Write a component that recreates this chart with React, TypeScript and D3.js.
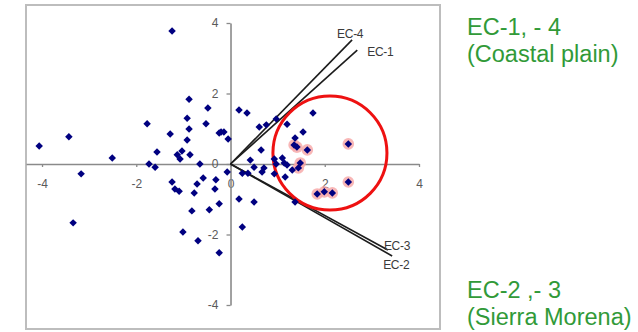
import React, { useEffect, useRef } from "react";
import * as d3 from "d3";

const X_TICKS = [-4, -2, 0, 2, 4];
const Y_TICKS = [-4, -2, 0, 2, 4];

// site scores on the first two axes
const SITE_X = [
  -1.24, -0.88, -0.48, -1.77, -0.92, -0.52, -0.88, -0.24, -1.28, -0.92,
  -3.43, -4.06, -1.56, -1.03, -1.13, -1.07, -0.86, -2.51, -1.73, -1.6,
  -0.65, -3.17, -0.58, -0.31, -0.07, -1.24, -0.71, -1.18, -1.09, -0.77,
  -0.33, -0.24, -0.82, -0.45, -3.34, -1.01, -0.69, -0.24, 0.18, 0.35,
  -0.2, -0.14, -0.05, 0.61, 0.76, 0.97, 0.65, 0.42, 1.1, 0.25,
  0.37, 0.5, 0.71, 0.93, 1.14, 1.2, 1.16, 0.18, 0.5, 1.37,
  0.25, 1.2, 1.54, 1.37, 1.75, 1.31, 0.93, 0.67, 0.97,
];
const SITE_Y = [
  3.77, 1.84, 1.59, 1.14, 1.3, 1.14, 0.99, 0.88, 0.85, 0.68,
  0.77, 0.51, 0.34, 0.37, 0.26, 0.14, 0.26, 0.17, 0.0, -0.09,
  0.0, -0.28, -0.4, -0.45, -0.23, -0.51, -0.57, -0.71, -0.77, -0.82,
  -0.71, -1.13, -1.33, -1.3, -1.67, -1.93, -2.18, -2.52, 1.53, 1.45,
  0.91, 0.91, 0.71, 1.05, 1.11, 1.28, 0.4, 0.11, 0.17, -0.26,
  -0.26, -0.09, -0.11, -0.28, 0.03, -0.03, -0.37, -0.99, -1.08, -1.08,
  -1.79, 1.13, 0.91, 0.74, 1.45, -0.17, 0.14, -0.23, 0.0,
];

// sites picked out inside the ring
const RING_SITE_X = [1.35, 1.41, 1.63, 2.5, 1.48, 1.44, 1.84, 1.99, 2.16, 2.5];
const RING_SITE_Y = [0.54, 0.48, 0.4, 0.57, 0.03, -0.11, -0.85, -0.79, -0.82, -0.51];

const VECTOR_NAMES = ["EC-4", "EC-1", "EC-3", "EC-2"];
const VECTOR_X = [2.58, 2.69, 3.34, 3.43];
const VECTOR_Y = [3.52, 3.23, -2.44, -2.61];

const RING_CENTER_X = 2.11;
const RING_CENTER_Y = 0.31;
const RING_RADIUS = 1.21;

const NOTES = [
  ["EC-1, - 4", "(Coastal plain)"],
  ["EC-2 ,- 3", "(Sierra Morena)"],
];

const W = 638;
const H = 332;
const FONT = "'Liberation Sans', Arial, sans-serif";

const App = () => {
  const ref = useRef<HTMLDivElement>(null);

  useEffect(() => {
    const svg = d3
      .select(ref.current)
      .html("")
      .append("svg")
      .attr("width", W)
      .attr("height", H)
      .style("position", "absolute")
      .style("left", 0)
      .style("top", 0)
      .style("background", "#fff");

    // plot frame
    svg
      .append("rect")
      .attr("x", 26)
      .attr("y", 5)
      .attr("width", 414)
      .attr("height", 324)
      .attr("fill", "#fff")
      .attr("stroke", "#bdbdbd")
      .attr("stroke-width", 2);

    const x = d3.scaleLinear().domain([-4.34, 4]).range([26, 419]);
    const y = d3.scaleLinear().domain([-4, 4]).range([305, 23]);
    const fmt = (d) => String(d);

    const xAxis = svg
      .append("g")
      .attr("transform", `translate(0,${y(0)})`)
      .call(d3.axisBottom(x).tickValues(X_TICKS).tickFormat(fmt).tickSizeInner(3).tickSizeOuter(0).tickPadding(12));
    const yAxis = svg
      .append("g")
      .attr("transform", `translate(${x(0)},0)`)
      .call(d3.axisLeft(y).tickValues(Y_TICKS).tickFormat(fmt).tickSizeInner(4).tickSizeOuter(0).tickPadding(8));

    [xAxis, yAxis].forEach((g) => {
      g.select(".domain").attr("stroke", "#8a8a8a").attr("stroke-width", 1.6);
      g.selectAll(".tick line").attr("stroke", "#8a8a8a").attr("stroke-width", 1.3);
      g.selectAll(".tick text")
        .attr("fill", "#5a5a5a")
        .attr("font-size", "12px")
        .attr("font-family", FONT);
    });

    // environmental vectors
    const vectors = VECTOR_NAMES.map((name, i) => ({ name, vx: VECTOR_X[i], vy: VECTOR_Y[i] }));
    const labelOffset = {
      "EC-4": [-15, -2],
      "EC-1": [10, 6],
      "EC-3": [-4, 0],
      "EC-2": [-9, 13],
    };

    svg
      .append("g")
      .selectAll("line")
      .data(vectors)
      .join("line")
      .attr("x1", x(0))
      .attr("y1", y(0))
      .attr("x2", (d) => x(d.vx))
      .attr("y2", (d) => y(d.vy))
      .attr("stroke", "#1c1c1c")
      .attr("stroke-width", 1.6);

    svg
      .append("g")
      .selectAll("text")
      .data(vectors)
      .join("text")
      .attr("x", (d) => x(d.vx) + labelOffset[d.name][0])
      .attr("y", (d) => y(d.vy) + labelOffset[d.name][1])
      .attr("font-size", "12px")
      .attr("font-family", FONT)
      .attr("fill", "#3a3a3a")
      .attr("letter-spacing", "-0.3px")
      .text((d) => d.name);

    // ring around the coastal group
    svg
      .append("circle")
      .attr("cx", x(RING_CENTER_X))
      .attr("cy", y(RING_CENTER_Y))
      .attr("r", x(RING_RADIUS) - x(0))
      .attr("fill", "none")
      .attr("stroke", "#ee1111")
      .attr("stroke-width", 3);

    const ringSites = RING_SITE_X.map((v, i) => [v, RING_SITE_Y[i]]);
    const sites = SITE_X.map((v, i) => [v, SITE_Y[i]]);

    svg
      .append("g")
      .selectAll("circle")
      .data(ringSites)
      .join("circle")
      .attr("cx", (d) => x(d[0]))
      .attr("cy", (d) => y(d[1]))
      .attr("r", 5.8)
      .attr("fill", "#f6a5a5")
      .attr("opacity", 0.8);

    const diamond = d3.symbol(d3.symbolSquare, 28);

    svg
      .append("g")
      .selectAll("path")
      .data(sites.concat(ringSites))
      .join("path")
      .attr("d", diamond)
      .attr("transform", (d) => `translate(${x(d[0])},${y(d[1])}) rotate(45)`)
      .attr("fill", "#000080");

    // side notes
    const notes = svg.append("g").attr("font-family", FONT).attr("font-size", "23.5px").attr("fill", "#319a38");
    NOTES.forEach((lines, i) => {
      const top = i === 0 ? 35 : 298;
      lines.forEach((line, j) => {
        notes
          .append("text")
          .attr("x", 467)
          .attr("y", top + j * 27)
          .text(line);
      });
    });
  }, []);

  return <div ref={ref} />;
};

export default App;
